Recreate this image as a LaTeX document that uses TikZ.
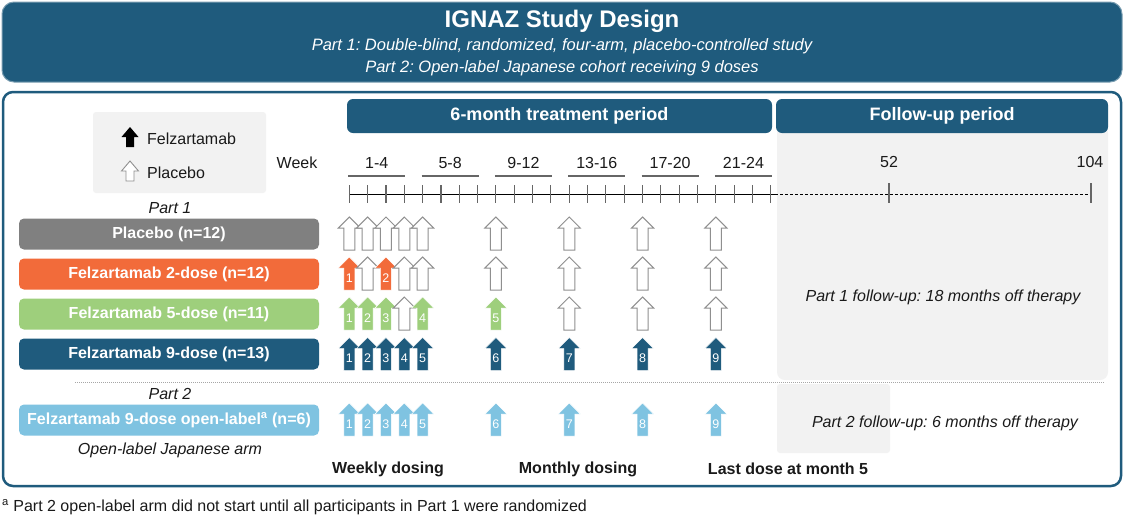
\documentclass[tikz,border=0pt]{standalone}
\usepackage{fontspec}
\setmainfont{Liberation Sans}
\frenchspacing
\definecolor{navy}{HTML}{1F5B7D}
\definecolor{orng}{HTML}{F26B3A}
\definecolor{grn}{HTML}{9ECF7C}
\definecolor{skyb}{HTML}{7FC3E1}
\definecolor{panelgray}{HTML}{F2F2F2}
\definecolor{boxgray}{HTML}{808080}
\definecolor{arrgray}{HTML}{8F8F8F}
\definecolor{txtdark}{HTML}{1A1A1A}
% dose arrow: name, x, tip y, style, number
\newcommand{\dosearr}[5]{%
  \draw[#4] (#2,#3) -- (#2+11,#3+11) -- (#2+5.5,#3+11) -- (#2+5.5,#3+33)
    -- (#2-5.5,#3+33) -- (#2-5.5,#3+11) -- (#2-11,#3+11) -- cycle;
  \node[numlbl] (#1) at (#2,#3+21) {#5};}
\tikzset{
  txt/.style={inner sep=0, text=txtdark, font=\fontsize{16}{19}\selectfont},
  itxt/.style={txt, font=\fontsize{16}{19}\selectfont\itshape},
  btxt/.style={txt, font=\fontsize{16}{19}\selectfont\bfseries},
  armbox/.style={rounded corners=5pt, minimum width=300pt, minimum height=31pt,
    inner sep=0, text=white, font=\fontsize{16}{19}\selectfont\bfseries},
  hdrbox/.style={fill=navy, rounded corners=6pt, minimum height=34pt, inner sep=0,
    text=white, font=\fontsize{18}{21}\selectfont\bfseries},
  numlbl/.style={inner sep=0, text=white, font=\fontsize{12.5}{14}\selectfont},
  openarr/.style={draw=arrgray, fill=white, line width=1pt},
  orngarr/.style={fill=orng, draw=white, line width=0.5pt},
  grnarr/.style={fill=grn, draw=white, line width=0.5pt},
  navarr/.style={fill=navy, draw=white, line width=0.5pt},
  skyarr/.style={fill=skyb, draw=white, line width=0.5pt},
  tickln/.style={draw=black!60, line width=1.1pt},
}
\begin{document}
\begin{tikzpicture}[x=1pt,y=-1pt]
\useasboundingbox (0,0) rectangle (1128,515);

% outer frame and follow-up panels
\draw[navy, line width=2.5pt, fill=white, rounded corners=10pt] (3,92) rectangle (1121,486);
\fill[panelgray, rounded corners=8pt] (777,125) rectangle (1108,380);
\fill[panelgray, rounded corners=3pt] (777,384) rectangle (890,453);
\draw[black!35, dash pattern=on 1pt off 1pt] (75,382) -- (1105,382);

% title banner
\draw[fill=navy, draw=navy!60!white, line width=1pt, rounded corners=12pt] (2,2) rectangle (1122,82);
\node[inner sep=0, text=white, font=\fontsize{24}{28}\selectfont\bfseries] (title) at (562,21) {IGNAZ Study Design};
\node[inner sep=0, text=white, font=\fontsize{16.5}{19}\selectfont\itshape] (sub1) at (562,46) {Part 1: Double-blind, randomized, four-arm, placebo-controlled study};
\node[inner sep=0, text=white, font=\fontsize{16.5}{19}\selectfont\itshape] (sub2) at (562,68) {Part 2: Open-label Japanese cohort receiving 9 doses};

% period headers
\node[hdrbox, minimum width=425pt] (treat) at (559.5,116) {6-month treatment period};
\node[hdrbox, minimum width=332pt] (follow) at (942,116) {Follow-up period};

% legend
\fill[panelgray, rounded corners=3pt] (93,112) rectangle (266,193);
\fill[black] (130,127) -- (138.5,137) -- (134,137) -- (134,147) -- (126,147) -- (126,137) -- (121.5,137) -- cycle;
\draw[arrgray, fill=white, line width=0.9pt] (130,161) -- (138.5,171) -- (134,171) -- (134,181) -- (126,181) -- (126,171) -- (121.5,171) -- cycle;
\node[txt, anchor=west] (legf) at (147,139) {Felzartamab};
\node[txt, anchor=west] (legp) at (147,173) {Placebo};

% week axis
\node[txt] (week) at (297,163) {Week};
\foreach \g [count=\i from 0] in {1-4,5-8,9-12,13-16,17-20,21-24}{
  \pgfmathsetmacro{\gx}{349.3+73.33*\i}
  \node[txt] (wk\i) at (\gx+27.5,163) {\g};
  \draw[black!60, line width=1.2pt] (\gx-1,176) -- (\gx+56,176);
}
\draw[black, line width=1pt] (349.3,194) -- (775,194);
\foreach \k in {0,...,23}{
  \pgfmathsetmacro{\tx}{349.3+18.33*\k}
  \draw[tickln] (\tx,185) -- (\tx,203);
}
\draw[black, line width=0.9pt, dash pattern=on 3pt off 2pt] (775,194) -- (1091,194);
\draw[tickln] (889,183) -- (889,203);
\draw[tickln] (1091,183) -- (1091,203);
\node[txt] (w52) at (889,162) {52};
\node[txt] (w104) at (1090,162) {104};

% arms
\node[itxt] (part1) at (170,208) {Part 1};
\node[armbox, fill=boxgray] (placebo) at (169,234) {Placebo (n=12)};
\node[armbox, fill=orng] (dose2) at (169,274) {Felzartamab 2-dose (n=12)};
\node[armbox, fill=grn] (dose5) at (169,314) {Felzartamab 5-dose (n=11)};
\node[armbox, fill=navy] (dose9) at (169,354) {Felzartamab 9-dose (n=13)};
\node[itxt] (part2) at (170,394) {Part 2};
\node[armbox, fill=skyb] (openl) at (169,420) {Felzartamab 9-dose open-label\textsuperscript{a} (n=6)};
\node[itxt] (japan) at (170,450) {Open-label Japanese arm};

% dosing arrows
\foreach \k [count=\i] in {0,1,2,3,4,8,12,16,20}{
  \pgfmathsetmacro{\ax}{349.3+18.33*\k}
  \dosearr{ra\i}{\ax}{217}{openarr}{}
}
\foreach \k/\st/\lb [count=\i] in {0/orngarr/1,1/openarr/{},2/orngarr/2,3/openarr/{},4/openarr/{},8/openarr/{},12/openarr/{},16/openarr/{},20/openarr/{}}{
  \pgfmathsetmacro{\ax}{349.3+18.33*\k}
  \dosearr{rb\i}{\ax}{257}{\st}{\lb}
}
\foreach \k/\st/\lb [count=\i] in {0/grnarr/1,1/grnarr/2,2/grnarr/3,3/openarr/{},4/grnarr/4,8/grnarr/5,12/openarr/{},16/openarr/{},20/openarr/{}}{
  \pgfmathsetmacro{\ax}{349.3+18.33*\k}
  \dosearr{rc\i}{\ax}{297}{\st}{\lb}
}
\foreach \k [count=\i] in {0,1,2,3,4,8,12,16,20}{
  \pgfmathsetmacro{\ax}{349.3+18.33*\k}
  \dosearr{rd\i}{\ax}{337.5}{navarr}{\i}
}
\foreach \k [count=\i] in {0,1,2,3,4,8,12,16,20}{
  \pgfmathsetmacro{\ax}{349.3+18.33*\k}
  \dosearr{re\i}{\ax}{403}{skyarr}{\i}
}

% follow-up notes
\node[itxt] (fu1) at (943,297) {Part 1 follow-up: 18 months off therapy};
\node[itxt] (fu2) at (945,423) {Part 2 follow-up: 6 months off therapy};

% bottom captions
\node[btxt] (weekly) at (388,469) {Weekly dosing};
\node[btxt] (monthly) at (578,469) {Monthly dosing};
\node[btxt] (last) at (788,469) {Last dose at month 5};
\node[txt, anchor=west] (foot) at (2,507) {\textsuperscript{a} Part 2 open-label arm did not start until all participants in Part 1 were randomized};
\end{tikzpicture}
\end{document}
